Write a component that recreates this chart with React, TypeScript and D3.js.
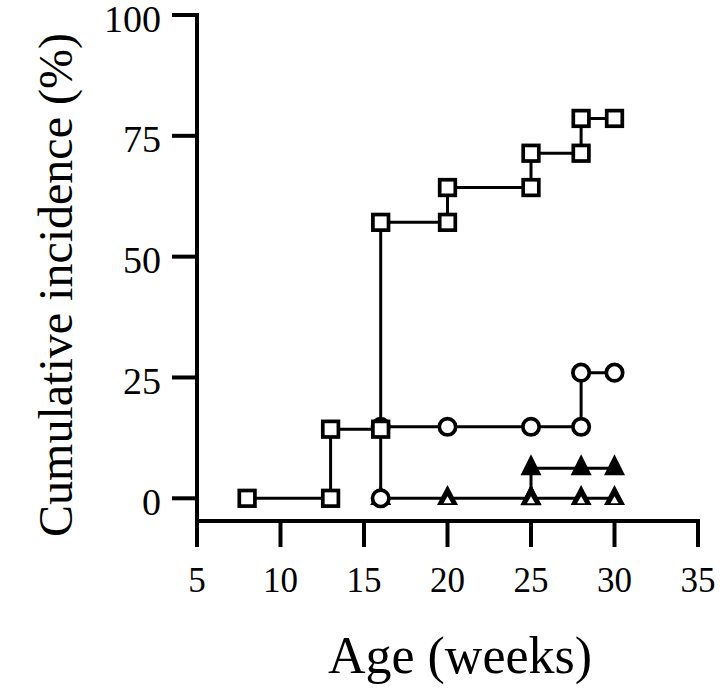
import React from "react";
import * as d3 from "d3";

// ---- data ----
const xTicks = [5, 10, 15, 20, 25, 30, 35];
const yTicks = [0, 25, 50, 75, 100];

// open squares
const squareX = [8, 13, 13, 16, 16, 20, 20, 25, 25, 28, 28, 30];
const squareY = [0, 0, 14.3, 14.3, 57.1, 57.1, 64.3, 64.3, 71.4, 71.4, 78.6, 78.6];
// open circles
const circleX = [16, 16, 20, 25, 28, 28, 30];
const circleY = [0, 14.8, 14.8, 14.8, 14.8, 26, 26];
// open triangles
const openTriX = [16, 20, 25, 28, 30];
const openTriY = [0, 0, 0, 0, 0];
// filled triangles
const filledTriX = [25, 25, 28, 30];
const filledTriY = [0, 6.2, 6.2, 6.2];

const xLabel = "Age (weeks)";
const yLabel = "Cumulative incidence (%)";

const W = 720;
const H = 695;
const FONT = "'Liberation Serif', 'Times New Roman', Times, serif";

const x = d3.scaleLinear().domain([5, 35]).range([197, 698]);
const y = d3.scaleLinear().domain([0, 100]).range([498.3, 15]);

const zip = (xs: number[], ys: number[]) => xs.map((v, i) => [v, ys[i]] as [number, number]);

const line = d3
  .line<[number, number]>()
  .x((d) => x(d[0]))
  .y((d) => y(d[1]));

function triPath(w: number, h: number, dy = 0) {
  const p = d3.path();
  p.moveTo(0, -(2 * h) / 3 + dy);
  p.lineTo(w / 2, h / 3 + dy);
  p.lineTo(-w / 2, h / 3 + dy);
  p.closePath();
  return p.toString();
}

export default function App() {
  const sq = zip(squareX, squareY);
  const ci = zip(circleX, circleY);
  const ot = zip(openTriX, openTriY);
  const ft = zip(filledTriX, filledTriY);
  const axisY = 521;
  const axisX = x(5);
  const lw = 3;
  const sw = 3.7;
  return (
    <svg
      width={W}
      height={H}
      viewBox={`0 0 ${W} ${H}`}
      style={{ position: "absolute", left: 0, top: 0, background: "#fff" }}
    >
      <rect x={0} y={0} width={W} height={H} fill="#fff" />
      {/* axes */}
      <g stroke="#000" strokeWidth={4} fill="none">
        <line x1={axisX} y1={y(100) - 2} x2={axisX} y2={axisY + 2} />
        <line x1={axisX - 2} y1={axisY} x2={x(35) + 2} y2={axisY} />
        {yTicks.map((t) => (
          <line key={"yt" + t} x1={axisX - 25} x2={axisX} y1={y(t)} y2={y(t)} />
        ))}
        {xTicks.map((t) => (
          <line key={"xt" + t} x1={x(t)} x2={x(t)} y1={axisY} y2={axisY + 26} />
        ))}
      </g>
      <g fontFamily={FONT} fontSize={38} fill="#000">
        {yTicks.map((t) => (
          <text key={"yl" + t} x={axisX - 36} y={y(t) + 16.5} textAnchor="end">
            {t}
          </text>
        ))}
      </g>
      <g fontFamily={FONT} fontSize={35} fill="#000">
        {xTicks.map((t) => (
          <text key={"xl" + t} x={x(t)} y={592} textAnchor="middle">
            {t}
          </text>
        ))}
      </g>
      <text x={460} y={673} textAnchor="middle" fontFamily={FONT} fontSize={52} fill="#000">
        {xLabel}
      </text>
      <text
        transform={`translate(72, 285) rotate(-90)`}
        textAnchor="middle"
        fontFamily={FONT}
        fontSize={48}
        fill="#000"
      >
        {yLabel}
      </text>

      {/* filled triangles */}
      <path d={line(ft) ?? ""} fill="none" stroke="#000" strokeWidth={lw} />
      {ft.map((d, i) => (
        <path key={"ft" + i} transform={`translate(${x(d[0])},${y(d[1])})`} d={triPath(21, 21)} fill="#000" />
      ))}
      {/* open triangles */}
      <path d={line(ot) ?? ""} fill="none" stroke="#000" strokeWidth={lw} />
      {ot.map((d, i) => (
        <g key={"ot" + i} transform={`translate(${x(d[0])},${y(d[1])})`}>
          <path d={triPath(21, 20)} fill="#000" />
          <path d={triPath(8, 7, 2.5)} fill="#fff" />
        </g>
      ))}
      {/* circles */}
      <path d={line(ci) ?? ""} fill="none" stroke="#000" strokeWidth={lw} />
      {ci.map((d, i) => (
        <circle key={"ci" + i} cx={x(d[0])} cy={y(d[1])} r={8.2} fill="#fff" stroke="#000" strokeWidth={sw} />
      ))}
      {/* squares */}
      <path d={line(sq) ?? ""} fill="none" stroke="#000" strokeWidth={lw} />
      {sq.map((d, i) => (
        <rect
          key={"sq" + i}
          x={x(d[0]) - 7.8}
          y={y(d[1]) - 7.8}
          width={15.6}
          height={15.6}
          fill="#fff"
          stroke="#000"
          strokeWidth={sw}
        />
      ))}
    </svg>
  );
}
